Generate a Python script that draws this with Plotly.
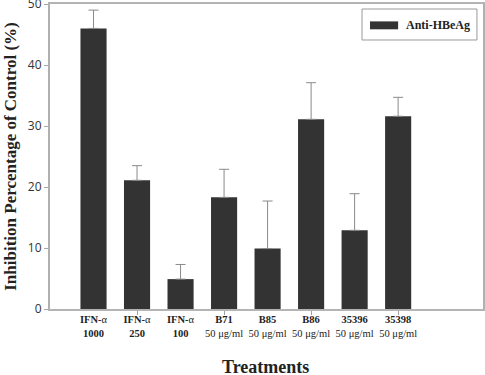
import plotly.graph_objects as go

categories = ["<b>IFN-</b>α<br><b>1000</b>", "<b>IFN-</b>α<br><b>250</b>", "<b>IFN-</b>α<br><b>100</b>",
              "<b>B71</b><br>50 μg/ml", "<b>B85</b><br>50 μg/ml", "<b>B86</b><br>50 μg/ml",
              "<b>35396</b><br>50 μg/ml", "<b>35398</b><br>50 μg/ml"]
values = [46.0, 21.1, 4.9, 18.3, 9.9, 31.1, 12.9, 31.6]
errors = [3.0, 2.4, 2.4, 4.6, 7.8, 6.0, 6.0, 3.1]
y_ticks = [0, 10, 20, 30, 40, 50]
series_name = "Anti-HBeAg"

x_pos = list(range(len(categories)))

fig = go.Figure()
fig.add_trace(go.Bar(
    x=x_pos, y=values, width=0.6, name=series_name, showlegend=False,
    marker=dict(color="#333333", line=dict(width=0)),
    error_y=dict(type="data", array=errors, arrayminus=[0]*len(errors), symmetric=False,
                 color="#8a8a8a", thickness=1, width=5),
))

fig.update_layout(
    width=485, height=375,
    margin=dict(l=50, r=2, t=4, b=66),
    paper_bgcolor="white", plot_bgcolor="white",
    showlegend=False,
    xaxis=dict(range=[-1, 8.95], tickmode="array", tickvals=x_pos, ticktext=categories,
               tickangle=0, ticks="", showgrid=False, zeroline=False, automargin=False,
               showline=True, mirror=True, linecolor="#b4b4b4", linewidth=1.5,
               tickfont=dict(family="Liberation Serif", size=10.5, color="#222"),
               minor=dict(tickvals=[1, 3, 5, 7], ticks="outside", ticklen=4, tickcolor="#a0a0a0", showgrid=False)),
    yaxis=dict(range=[0, 50], tickvals=y_ticks, ticks="outside", ticklen=4, tickcolor="#a8a8a8",
               ticklabeloverflow="allow", automargin=False,
               showgrid=False, zeroline=False, showline=True, mirror=True, linecolor="#b0b0b0", linewidth=2,
               tickfont=dict(family="Open Sans", size=12, color="#333"),
               title=dict(text="<b>Inhibition Percentage of Control (%)</b>",
                          font=dict(family="Liberation Serif", size=17, color="#222"), standoff=7)),
)
# x axis title
fig.add_annotation(text="<b>Treatments</b>", xref="paper", yref="paper", x=0.497, y=-0.19,
                   xanchor="center", yanchor="middle", showarrow=False,
                   font=dict(family="Liberation Serif", size=18, color="#222"))
# legend box
fig.add_shape(type="rect", xref="paper", yref="paper", x0=0.7206, x1=0.986, y0=0.882, y1=0.9836,
              line=dict(color="#9a9a9a", width=1), fillcolor="white")
fig.add_shape(type="rect", xref="paper", yref="paper", x0=0.739, x1=0.804, y0=0.917, y1=0.943,
              line=dict(width=0), fillcolor="#333333")
fig.add_annotation(text="<b>" + series_name + "</b>", xref="paper", yref="paper", x=0.818, y=0.931,
                   xanchor="left", yanchor="middle", showarrow=False,
                   font=dict(family="Liberation Serif", size=12, color="#222"))

fig.write_html("out.html", config={"displayModeBar": False},
               post_script="document.body.style.margin='0';document.body.style.overflow='hidden';")
